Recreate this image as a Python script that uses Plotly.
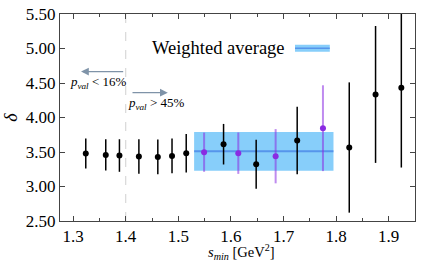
import plotly.graph_objects as go

# ---- data ----
s_min = [1.324, 1.362, 1.388, 1.425, 1.461, 1.488, 1.515, 1.549, 1.586, 1.614,
         1.648, 1.685, 1.726, 1.775, 1.825, 1.875, 1.924]
delta = [3.478, 3.458, 3.449, 3.435, 3.429, 3.443, 3.483, 3.497, 3.613, 3.483,
         3.323, 3.439, 3.667, 3.845, 3.565, 4.334, 4.430]
delta_err = [0.218, 0.227, 0.236, 0.250, 0.253, 0.251, 0.279, 0.284, 0.294, 0.300,
             0.354, 0.393, 0.488, 0.622, 0.944, 0.992, 1.155]
highlight = [False, False, False, False, False, False, False, True, False, True,
             False, True, False, True, False, False, False]

avg_value = 3.51
avg_error = 0.28
avg_range = [1.530, 1.795]
s_cut = 1.4

x_ticks = [1.3, 1.4, 1.5, 1.6, 1.7, 1.8, 1.9]
y_ticks = [2.5, 3.0, 3.5, 4.0, 4.5, 5.0, 5.5]

FONT = "Liberation Serif, Times New Roman, serif"
BLACK_BAR = "black"
PURPLE = "#8a2be2"
PURPLE_BAR = "rgba(138,43,226,0.55)"
BAND = "#87cefa"
BAND_LINE = "rgba(70,130,230,0.75)"
ARROW = "#7f93a8"

fig = go.Figure()

# weighted-average band
fig.add_trace(go.Scatter(
    x=[avg_range[0], avg_range[1], avg_range[1], avg_range[0], avg_range[0]],
    y=[avg_value - avg_error, avg_value - avg_error, avg_value + avg_error,
       avg_value + avg_error, avg_value - avg_error],
    fill="toself", fillcolor=BAND, line=dict(width=0), mode="lines",
    hoverinfo="skip", showlegend=False))
fig.add_trace(go.Scatter(
    x=avg_range, y=[avg_value, avg_value], mode="lines",
    line=dict(color=BAND_LINE, width=2), showlegend=False, hoverinfo="skip"))

# black points
bx = [x for x, h in zip(s_min, highlight) if not h]
by = [y for y, h in zip(delta, highlight) if not h]
be = [e for e, h in zip(delta_err, highlight) if not h]
fig.add_trace(go.Scatter(
    x=bx, y=by, mode="markers",
    marker=dict(color="black", size=6),
    error_y=dict(type="data", array=be, color=BLACK_BAR, thickness=1.5, width=0),
    showlegend=False))

# purple points
px_ = [x for x, h in zip(s_min, highlight) if h]
py_ = [y for y, h in zip(delta, highlight) if h]
pe = [e for e, h in zip(delta_err, highlight) if h]
fig.add_trace(go.Scatter(
    x=px_, y=py_, mode="markers",
    marker=dict(color=PURPLE, size=6),
    error_y=dict(type="data", array=pe, color=PURPLE_BAR, thickness=2, width=0),
    showlegend=False))

# vertical cut line
fig.add_vline(x=s_cut, line=dict(color="#d0d0d0", width=1, dash="dash"), layer="below")

# arrows + p-value labels
fig.add_annotation(x=1.315, y=4.665, ax=1.398, ay=4.665, xref="x", yref="y",
                   axref="x", ayref="y", text="", showarrow=True,
                   arrowhead=2, arrowsize=1.2, arrowwidth=1.3, arrowcolor=ARROW)
fig.add_annotation(x=1.480, y=4.36, ax=1.410, ay=4.36, xref="x", yref="y",
                   axref="x", ayref="y", text="", showarrow=True,
                   arrowhead=2, arrowsize=1.2, arrowwidth=1.3, arrowcolor=ARROW)
fig.add_annotation(x=1.347, y=4.51, xref="x", yref="y", showarrow=False,
                   text="<i>p</i><sub><i>val</i></sub> < 16%",
                   font=dict(family=FONT, size=13, color="black"))
fig.add_annotation(x=1.457, y=4.20, xref="x", yref="y", showarrow=False,
                   text="<i>p</i><sub><i>val</i></sub> > 45%",
                   font=dict(family=FONT, size=13, color="black"))

# legend (manual)
fig.add_annotation(x=0.64, y=0.835, xref="paper", yref="paper", showarrow=False,
                   xanchor="right", yanchor="middle", text="Weighted average",
                   font=dict(family=FONT, size=18.5, color="black"))
fig.add_shape(type="rect", xref="paper", yref="paper", x0=0.662, x1=0.760,
              y0=0.818, y1=0.852, fillcolor=BAND, line=dict(width=0))
fig.add_shape(type="line", xref="paper", yref="paper", x0=0.662, x1=0.760,
              y0=0.835, y1=0.835, line=dict(color=BAND_LINE, width=1.5))

# axis titles
fig.add_annotation(x=0.51, y=-0.150, xref="paper", yref="paper", showarrow=False,
                   xanchor="center", yanchor="middle",
                   text="<i>s</i><sub><i>min</i></sub> [GeV<sup>2</sup>]",
                   font=dict(family=FONT, size=14.5, color="black"))
fig.add_annotation(x=-0.14, y=0.5, xref="paper", yref="paper", showarrow=False,
                   xanchor="center", yanchor="middle", textangle=-90,
                   text="<i>δ</i>", font=dict(family=FONT, size=18, color="black"))

axis_common = dict(showline=True, linecolor="#444", linewidth=1, mirror="ticks",
                   ticks="inside", ticklen=5, tickcolor="#444", showgrid=False,
                   zeroline=False, automargin=False,
                   tickfont=dict(family=FONT, size=17, color="black"))

fig.update_xaxes(range=[1.275, 1.95], tickvals=x_ticks, tickformat=".1f",
                 minor=dict(dtick=0.05, tick0=1.3, ticks="inside", ticklen=3,
                            tickcolor="#444", showgrid=False),
                 **axis_common)
fig.update_yaxes(range=[2.5, 5.5], tickvals=y_ticks, tickformat=".2f",
                 **axis_common)

fig.update_layout(width=436, height=262, margin=dict(l=60, r=21, t=14, b=41),
                  plot_bgcolor="white", paper_bgcolor="white", showlegend=False,
                  font=dict(family=FONT))

fig.write_html("out.html", config={"displayModeBar": False},
               post_script="document.body.style.margin='0';document.body.style.overflow='hidden';")
